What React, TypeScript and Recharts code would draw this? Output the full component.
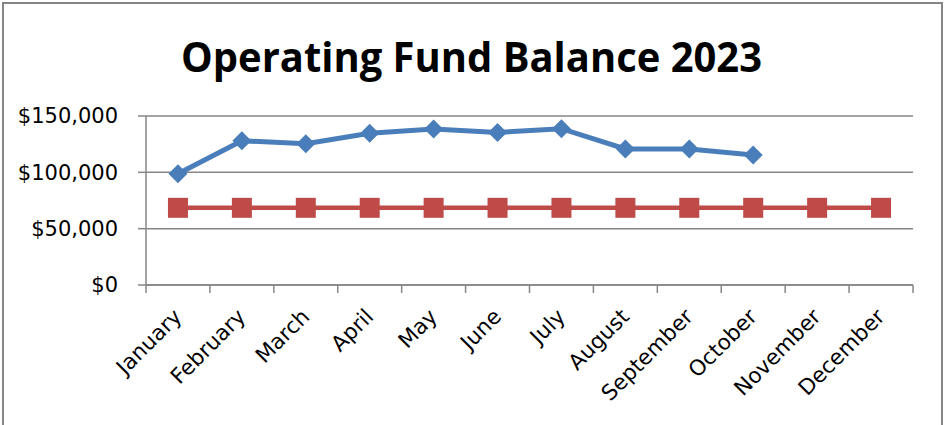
import { LineChart, Line, XAxis, YAxis, CartesianGrid } from "recharts"

const MONTHS = [
  "January", "February", "March", "April", "May", "June",
  "July", "August", "September", "October", "November", "December",
]
const BALANCE = [98800, 128000, 125300, 134600, 138400, 135400, 138700, 120800, 120800, 115400, null, null]
const MINIMUM = [68500, 68500, 68500, 68500, 68500, 68500, 68500, 68500, 68500, 68500, 68500, 68500]
const Y_TICKS = [0, 50000, 100000, 150000]
const BOUNDARY_TICKS = [0, 1, 2, 3, 4, 5, 6, 7, 8, 9, 10, 11, 12]
const CENTER_TICKS = MONTHS.map((_, i) => i + 0.5)

const data = MONTHS.map((m, i) => ({
  month: m,
  idx: i + 0.5,
  balance: BALANCE[i],
  minimum: MINIMUM[i],
}))

const GRID = "#868686"
const BLUE = "#4a7ebb"
const RED = "#be4b48"
const FONT = "'DejaVu Sans', Verdana, sans-serif"

const Diamond = (props: any) => {
  const { cx, cy, index } = props
  if (cx == null || cy == null || BALANCE[index] == null) return <g key={index} />
  const r = 9.5
  return (
    <polygon
      key={index}
      points={`${cx},${cy - r} ${cx + r},${cy} ${cx},${cy + r} ${cx - r},${cy}`}
      fill={BLUE}
    />
  )
}

const Square = (props: any) => {
  const { cx, cy, index } = props
  if (cx == null || cy == null) return <g key={index} />
  return <rect key={index} x={cx - 10} y={cy - 10} width={20} height={20} fill={RED} />
}

const MonthTick = (props: any) => {
  const { x, y, payload } = props
  const label = MONTHS[Math.floor(payload.value)]
  const ax = x + 5
  const ay = y + 25
  return (
    <text
      x={ax}
      y={ay}
      transform={`rotate(-45, ${ax}, ${ay})`}
      textAnchor="end"
      fontSize={21.5}
      fontFamily={FONT}
      fill="#000"
    >
      {label}
    </text>
  )
}

export default function App() {
  return (
    <div style={{ position: "absolute", left: 0, top: 0, width: 946, height: 425, background: "#fff", overflow: "hidden" }}>
      <div
        style={{
          position: "absolute",
          left: 2,
          top: 2,
          width: 941,
          height: 460,
          boxSizing: "border-box",
          border: `2px solid ${GRID}`,
        }}
      />
      <LineChart
        width={946}
        height={425}
        data={data}
        margin={{ top: 116, right: 33, bottom: 0, left: 0 }}
        style={{ position: "absolute", left: 0, top: 0 }}
      >
        <CartesianGrid horizontal vertical={false} stroke={GRID} strokeWidth={1.5} />
        <XAxis
          type="number"
          dataKey="idx"
          domain={[0, 12]}
          ticks={BOUNDARY_TICKS}
          interval={0}
          height={8}
          tickSize={8}
          tickLine={{ stroke: GRID, strokeWidth: 1.5 }}
          axisLine={{ stroke: GRID, strokeWidth: 1.5 }}
          tick={() => <g />}
        />
        <XAxis
          xAxisId="labels"
          type="number"
          dataKey="idx"
          domain={[0, 12]}
          ticks={CENTER_TICKS}
          interval={0}
          height={132}
          tickSize={0}
          tickMargin={0}
          axisLine={false}
          tickLine={false}
          tick={<MonthTick />}
        />
        <YAxis
          width={146}
          domain={[0, 150000]}
          ticks={Y_TICKS}
          interval={0}
          tickSize={8}
          tickMargin={20}
          tickLine={{ stroke: GRID, strokeWidth: 1.5 }}
          axisLine={{ stroke: GRID, strokeWidth: 1.5 }}
          tick={{ fontSize: 21, fontFamily: FONT, fill: "#000" }}
          tickFormatter={(v: number) => `$${v.toLocaleString("en-US")}`}
        />
        <Line
          dataKey="minimum"
          stroke={RED}
          strokeWidth={4.5}
          dot={<Square />}
          activeDot={false}
          isAnimationActive={false}
        />
        <Line
          dataKey="balance"
          stroke={BLUE}
          strokeWidth={5}
          dot={<Diamond />}
          activeDot={false}
          connectNulls={false}
          isAnimationActive={false}
        />
      </LineChart>
      <svg width={946} height={425} style={{ position: "absolute", left: 0, top: 0, pointerEvents: "none" }}>
        <text
          x={471.5}
          y={72}
          textAnchor="middle"
          fontSize={41}
          fontWeight="bold"
          fontFamily="'Open Sans', sans-serif"
          textLength={581}
          lengthAdjust="spacingAndGlyphs"
          fill="#000"
        >
          Operating Fund Balance 2023
        </text>
      </svg>
    </div>
  )
}
